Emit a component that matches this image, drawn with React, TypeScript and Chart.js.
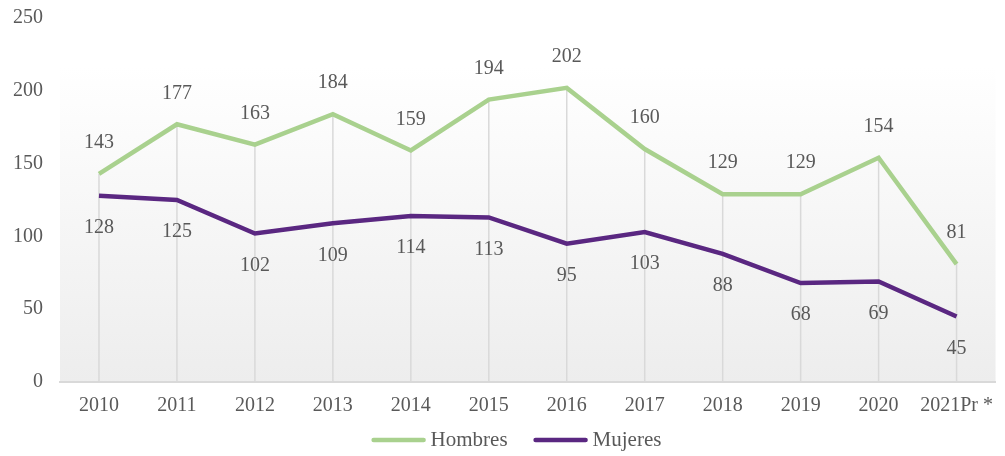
import React, { useEffect, useRef } from "react";
import { Chart, registerables } from "chart.js";

Chart.register(...registerables);

const categories = ["2010", "2011", "2012", "2013", "2014", "2015", "2016", "2017", "2018", "2019", "2020", "2021Pr *"];
const hombres = [143, 177, 163, 184, 159, 194, 202, 160, 129, 129, 154, 81];
const mujeres = [128, 125, 102, 109, 114, 113, 95, 103, 88, 68, 69, 45];
const yTicks = [0, 50, 100, 150, 200, 250];

const GREEN = "#a9d18e";
const PURPLE = "#5a2781";
const TEXT = "#595959";
const FONT = "'Liberation Serif', 'Times New Roman', serif";

const bgPlugin = {
  id: "bgGradient",
  beforeDraw(chart: any) {
    const { ctx, chartArea } = chart;
    const yScale = chart.scales.y;
    const top = yScale.getPixelForValue(217);
    const g = ctx.createLinearGradient(0, top, 0, chartArea.bottom);
    g.addColorStop(0, "#ffffff");
    g.addColorStop(1, "#ededed");
    ctx.save();
    ctx.fillStyle = g;
    ctx.fillRect(chartArea.left, top, chartArea.right - chartArea.left, chartArea.bottom - top);
    ctx.restore();
  },
};

const dropLines = {
  id: "dropLines",
  beforeDatasetsDraw(chart: any) {
    const { ctx, chartArea } = chart;
    const yScale = chart.scales.y;
    const xScale = chart.scales.x;
    ctx.save();
    ctx.strokeStyle = "#d9d9d9";
    ctx.lineWidth = 1.5;
    categories.forEach((_, i) => {
      const maxV = Math.max(hombres[i], mujeres[i]);
      const x = xScale.getPixelForValue(i);
      ctx.beginPath();
      ctx.moveTo(x, yScale.getPixelForValue(maxV));
      ctx.lineTo(x, chartArea.bottom);
      ctx.stroke();
    });
    ctx.restore();
  },
};

const labelsPlugin = {
  id: "valueLabels",
  afterDatasetsDraw(chart: any) {
    const { ctx } = chart;
    ctx.save();
    ctx.font = `20px ${FONT}`;
    ctx.fillStyle = TEXT;
    ctx.textAlign = "center";
    ctx.textBaseline = "middle";
    chart.data.datasets.forEach((ds: any, di: number) => {
      const meta = chart.getDatasetMeta(di);
      meta.data.forEach((pt: any, i: number) => {
        const off = di === 0 ? -31 : 32;
        ctx.fillText(String(ds.data[i]), pt.x, pt.y + off);
      });
    });
    ctx.restore();
  },
};

const legendPlugin = {
  id: "customLegend",
  afterDraw(chart: any) {
    const { ctx, width } = chart;
    const lineLen = 54;
    const gapText = 5;
    const gapItem = 26;
    ctx.save();
    ctx.font = `21px ${FONT}`;
    ctx.textBaseline = "middle";
    ctx.textAlign = "left";
    const items = chart.data.datasets.map((ds: any) => ({
      label: ds.label,
      color: ds.borderColor,
      w: ctx.measureText(ds.label).width,
    }));
    const total = items.reduce((s: number, it: any) => s + lineLen + gapText + it.w, 0) + gapItem * (items.length - 1);
    let x = width / 2 + 14 - total / 2;
    const y = 440;
    items.forEach((it: any) => {
      ctx.strokeStyle = it.color;
      ctx.lineWidth = 4.5;
      ctx.lineCap = "round";
      ctx.beginPath();
      ctx.moveTo(x + 2, y);
      ctx.lineTo(x + lineLen - 2, y);
      ctx.stroke();
      x += lineLen + gapText;
      ctx.fillStyle = TEXT;
      ctx.fillText(it.label, x, y);
      x += it.w + gapItem;
    });
    ctx.restore();
  },
};

export default function App() {
  const ref = useRef<HTMLCanvasElement>(null);
  useEffect(() => {
    if (!ref.current) return;
    const chart = new Chart(ref.current, {
      type: "line",
      data: {
        labels: categories,
        datasets: [
          {
            label: "Hombres",
            data: hombres,
            borderColor: GREEN,
            backgroundColor: GREEN,
            borderWidth: 4.5,
            pointRadius: 0,
            tension: 0,
          },
          {
            label: "Mujeres",
            data: mujeres,
            borderColor: PURPLE,
            backgroundColor: PURPLE,
            borderWidth: 4.5,
            pointRadius: 0,
            tension: 0,
          },
        ],
      },
      options: {
        animation: false,
        responsive: true,
        maintainAspectRatio: false,
        layout: { padding: { left: 0, right: 1, top: 18, bottom: 26 } },
        scales: {
          x: {
            offset: true,
            grid: { display: false, tickLength: 0 },
            border: { display: true, color: "#d9d9d9", width: 2 },
            ticks: { color: TEXT, font: { family: FONT, size: 20 }, padding: 12, maxRotation: 0, autoSkip: false },
          },
          y: {
            min: 0,
            max: 250,
            afterBuildTicks: (s: any) => {
              s.ticks = yTicks.map((v) => ({ value: v }));
            },
            afterFit: (s: any) => {
              s.width = 60;
            },
            grid: { display: false, drawTicks: true, tickLength: 17 },
            border: { display: false },
            ticks: { color: TEXT, font: { family: FONT, size: 20 }, padding: 0 },
          },
        },
        plugins: {
          legend: { display: false },
          tooltip: { enabled: false },
        },
      },
      plugins: [bgPlugin, dropLines, labelsPlugin, legendPlugin],
    });
    return () => chart.destroy();
  }, []);
  return (
    <div style={{ position: "fixed", left: 0, top: 0, width: 1005, height: 456, background: "#fff" }}>
      <canvas ref={ref} />
    </div>
  );
}
